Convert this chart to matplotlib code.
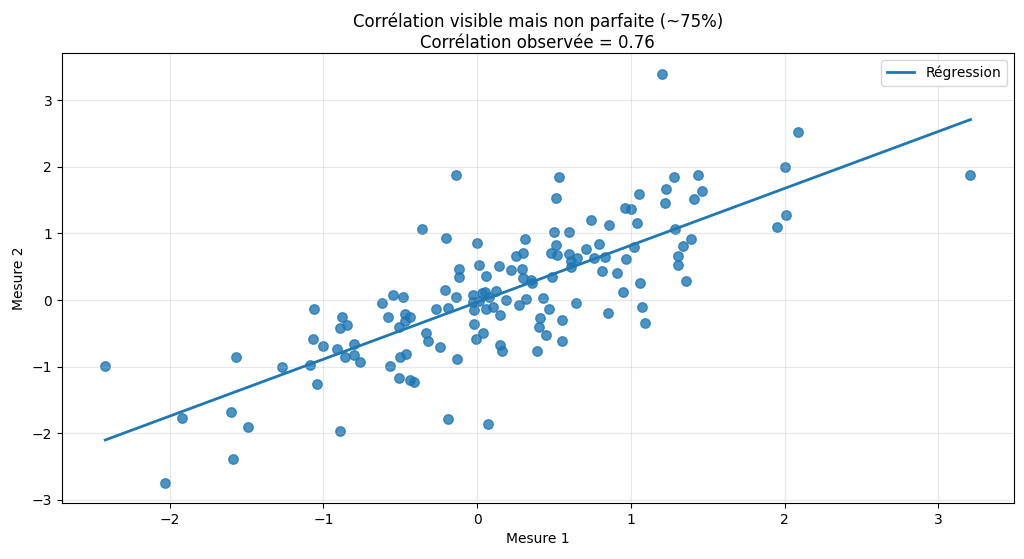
import numpy as np
import matplotlib
matplotlib.use("Agg")
import matplotlib.pyplot as plt

# Points (Mesure 1, Mesure 2)
mesure1 = [
    -2.42, -1.92, -2.03, -1.60, -1.59, -1.57, -1.49, -1.27, -1.09, -1.07,
    -1.06, -1.04, -1.00, -0.91, -0.89, -0.88, -0.89, -0.86, -0.85, -0.80,
    -0.80, -0.76, -0.62, -0.58, -0.57, -0.55, -0.51, -0.51, -0.50, -0.48,
    -0.47, -0.47, -0.46, -0.44, -0.44, -0.41, -0.36, -0.33, -0.32, -0.27,
    -0.24, -0.21, -0.20, -0.19, -0.19, -0.14, -0.14, -0.13, -0.12, -0.12,
    -0.03, -0.03, -0.02, -0.02, -0.01, 0.00, 0.01, 0.01, 0.03, 0.04,
    0.05, 0.06, 0.06, 0.07, 0.08, 0.10, 0.12, 0.14, 0.15, 0.15,
    0.16, 0.19, 0.22, 0.25, 0.27, 0.29, 0.30, 0.31, 0.30, 0.32,
    0.35, 0.36, 0.39, 0.40, 0.41, 0.43, 0.45, 0.47, 0.48, 0.49,
    0.50, 0.51, 0.51, 0.52, 0.53, 0.55, 0.55, 0.60, 0.60, 0.61,
    0.61, 0.64, 0.65, 0.71, 0.74, 0.76, 0.79, 0.81, 0.83, 0.85,
    0.86, 0.91, 0.95, 0.96, 0.97, 1.00, 1.02, 1.04, 1.05, 1.06,
    1.07, 1.09, 1.20, 1.22, 1.23, 1.28, 1.29, 1.31, 1.31, 1.34,
    1.36, 1.39, 1.41, 1.44, 1.46, 1.95, 2.00, 2.01, 2.09, 3.21,
]
mesure2 = [
    -0.99, -1.77, -2.74, -1.68, -2.38, -0.86, -1.91, -1.01, -0.98, -0.59,
    -0.13, -1.26, -0.69, -0.74, -0.42, -0.25, -1.96, -0.85, -0.38, -0.66,
    -0.83, -0.93, -0.04, -0.25, -0.99, 0.07, -0.41, -1.17, -0.86, 0.04,
    -0.21, -0.32, -0.81, -0.25, -1.20, -1.23, 1.07, -0.50, -0.61, -0.14,
    -0.70, 0.15, 0.93, -0.12, -1.78, 1.88, 0.05, -0.89, 0.47, 0.35,
    0.08, -0.03, -0.15, -0.36, -0.59, 0.86, 0.53, -0.02, 0.10, -0.50,
    0.12, -0.14, 0.36, -1.86, 0.04, -0.10, 0.14, 0.51, -0.22, -0.68,
    -0.77, 0.00, 0.45, 0.66, -0.07, 0.47, 0.70, 0.92, 0.33, 0.02,
    0.30, 0.25, -0.76, -0.40, -0.27, 0.03, -0.52, -0.14, 0.70, 0.34,
    1.02, 0.83, 1.53, 0.67, 1.84, -0.30, -0.62, 1.02, 0.69, 0.50,
    0.59, -0.04, 0.63, 0.76, 1.20, 0.63, 0.84, 0.43, 0.65, -0.20,
    1.12, 0.40, 0.12, 1.38, 0.61, 1.36, 0.80, 1.16, 1.59, 0.25,
    -0.11, -0.35, 3.40, 1.45, 1.66, 1.85, 1.06, 0.66, 0.53, 0.81,
    0.28, 0.91, 1.51, 1.88, 1.63, 1.10, 2.00, 1.28, 2.53, 1.87,
]

x = np.array(mesure1)
y = np.array(mesure2)

# Linear fit
pente, ordonnee = np.polyfit(x, y, 1)
x_line = np.linspace(x.min(), x.max(), 100)
y_line = pente * x_line + ordonnee

fig, ax = plt.subplots(figsize=(10.24, 5.59), dpi=100)
ax.scatter(x, y, s=46, alpha=0.8, color="#1f77b4")
ax.plot(x_line, y_line, color="#1f77b4", linewidth=2, label="Régression")

ax.set_xlabel("Mesure 1")
ax.set_ylabel("Mesure 2")
ax.set_title("Corrélation visible mais non parfaite (~75%)\nCorrélation observée = 0.76",
             fontsize=12, pad=4)
ax.grid(True, alpha=0.3)
ax.legend(loc="upper right")

fig.subplots_adjust(left=0.0605, right=0.990, top=0.905, bottom=0.10)
plt.savefig("out.png", dpi=100)
